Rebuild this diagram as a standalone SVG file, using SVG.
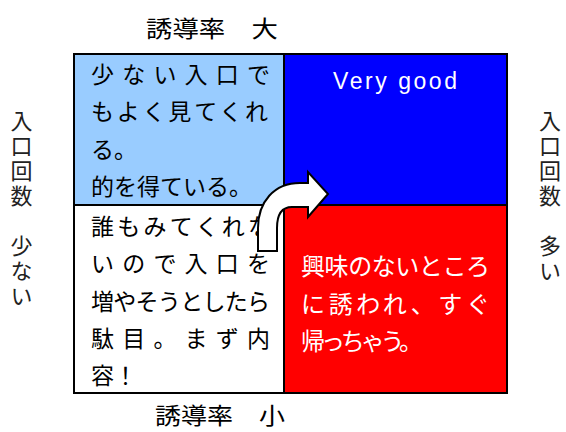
<svg xmlns="http://www.w3.org/2000/svg" width="566" height="432" viewBox="0 0 566 432">
<style>
.jp{font-family:"Noto Sans CJK JP","Noto Sans CJK SC",sans-serif;font-size:23px;fill:#000}
.wh{fill:#fff;font-size:24px}
.lbl{font-family:"Noto Sans CJK JP",sans-serif;font-size:23px;fill:#000}
.vl{font-family:"Noto Sans CJK JP",sans-serif;font-size:22px;fill:#222;writing-mode:vertical-rl;letter-spacing:3px}
.q{stroke:#000;stroke-width:2}
</style>
<rect width="566" height="432" fill="#fff"/>
<g id="label-top"><text class="lbl" x="146" y="37" textLength="132" lengthAdjust="spacingAndGlyphs">誘導率　大</text></g>
<g id="label-bottom"><text class="lbl" x="155" y="424" textLength="130" lengthAdjust="spacingAndGlyphs">誘導率　小</text></g>
<g id="label-left"><text class="vl" x="21.5" y="110">入口回数　少ない</text></g>
<g id="label-right"><text class="vl" x="550" y="110">入口回数　多い</text></g>
<g id="q-top-left">
<rect class="q" x="74" y="54" width="210" height="151" fill="#99CCFF"/>
<text class="jp" x="91" y="83" textLength="179">少ない入口で</text>
<text class="jp" x="91" y="120" textLength="177">もよく見てくれ</text>
<text class="jp" x="91" y="158">る。</text>
<text class="jp" x="91" y="195">的を得ている。</text>
</g>
<g id="q-top-right">
<rect class="q" x="284" y="54" width="223" height="151" fill="#0000FF"/>
<text x="333" y="89" textLength="124" font-family="Liberation Sans, Arial, sans-serif" font-size="23" fill="#fff">Very good</text>
</g>
<g id="q-bottom-left">
<rect class="q" x="74" y="205" width="210" height="188" fill="#fff"/>
<text class="jp" x="91" y="235" textLength="180">誰もみてくれな</text>
<text class="jp" x="91" y="272" textLength="179">いので入口を</text>
<text class="jp" x="91" y="310" textLength="179">増やそうとしたら</text>
<text class="jp" x="91" y="347" textLength="179">駄目。まず内</text>
<text class="jp" x="91" y="384">容！</text>
</g>
<g id="q-bottom-right">
<rect class="q" x="284" y="205" width="223" height="188" fill="#FF0000"/>
<text class="jp wh" x="301" y="275" textLength="189">興味のないところ</text>
<text class="jp wh" x="301" y="313" textLength="189">に誘われ、すぐ</text>
<text class="jp wh" x="301" y="350" textLength="122">帰っちゃう。</text>
</g>
<g id="connectors">
<path d="M258,251 L258,228 C258,202 274,183 300,183 L308,183 L308,172 L328,194 L308,217 L308,207 L292,207 C282,207 277,214 277,228 L277,251 Z" fill="#fff" stroke="#000" stroke-width="2" stroke-linejoin="miter"/>
</g>
</svg>
